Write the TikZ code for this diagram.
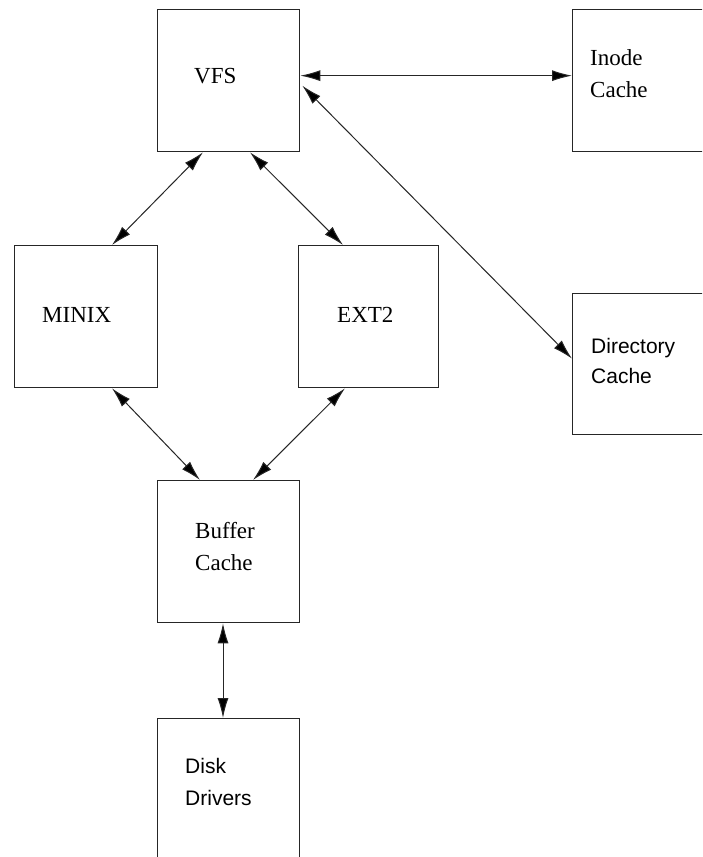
\documentclass[tikz,border=0pt]{standalone}
\usepackage{fontspec}
\setmainfont{Liberation Serif}
\newfontfamily\lsans{Liberation Sans}
\usetikzlibrary{arrows.meta}
\begin{document}
\begin{tikzpicture}[x=1pt,y=-1pt,
  box/.style={draw=black!85,line width=1.3pt,minimum width=142pt,minimum height=142pt,anchor=north west,inner sep=0pt},
  lbl/.style={anchor=base west,inner sep=0pt,font=\fontsize{23}{28}\selectfont},
  slbl/.style={anchor=base west,inner sep=0pt,font=\lsans\fontsize{21}{28}\selectfont},
  conn/.style={draw=black!85,line width=1pt,{Latex[length=20pt,width=11pt,fill=black]}-{Latex[length=20pt,width=11pt,fill=black]}}]
\useasboundingbox (0,0) rectangle (702,857);
\clip (0,0) rectangle (702,857);
\fill[white] (0,0) rectangle (702,857);
% boxes
\node[box] (vfs) at (157,9) {};
\node[box,minimum width=160pt] (inode) at (572,9) {};
\node[box,minimum width=160pt,minimum height=141pt] (dir) at (572,293) {};
\node[box,minimum width=143pt] (minix) at (14,245) {};
\node[box,minimum width=140pt] (ext2) at (298,245) {};
\node[box] (buf) at (157,480) {};
\node[box,minimum height=170pt] (disk) at (157,718) {};
% labels
\node[lbl] (tvfs) at (194,83) {VFS};
\node[lbl] (tinodeA) at (590,65) {Inode};
\node[lbl] (tinodeB) at (590,97) {Cache};
\node[slbl] (tdirA) at (591,353) {Directory};
\node[slbl] (tdirB) at (591,383) {Cache};
\node[lbl] (tminix) at (42,322) {MINIX};
\node[lbl] (text2) at (337,322) {EXT2};
\node[lbl] (tbufA) at (195,538) {Buffer};
\node[lbl] (tbufB) at (195,570) {Cache};
\node[slbl] (tdiskA) at (185,773) {Disk};
\node[slbl] (tdiskB) at (185,805) {Drivers};
% connectors
\draw[conn] ([yshift=5pt]vfs.east) -- ([yshift=5pt]inode.west);
\draw[conn] ([xshift=2pt,yshift=-5pt]vfs.east) -- ([yshift=5.5pt]dir.west);
\draw[conn] ([xshift=46pt]vfs.south west) -- ([xshift=98pt]minix.north west);
\draw[conn] ([xshift=93pt]vfs.south west) -- ([xshift=45pt]ext2.north west);
\draw[conn] ([xshift=98pt]minix.south west) -- ([xshift=43pt]buf.north west);
\draw[conn] ([xshift=47pt]ext2.south west) -- ([xshift=96pt]buf.north west);
\draw[conn] ([xshift=66pt]buf.south west) -- ([xshift=66pt]disk.north west);
\end{tikzpicture}
\end{document}
